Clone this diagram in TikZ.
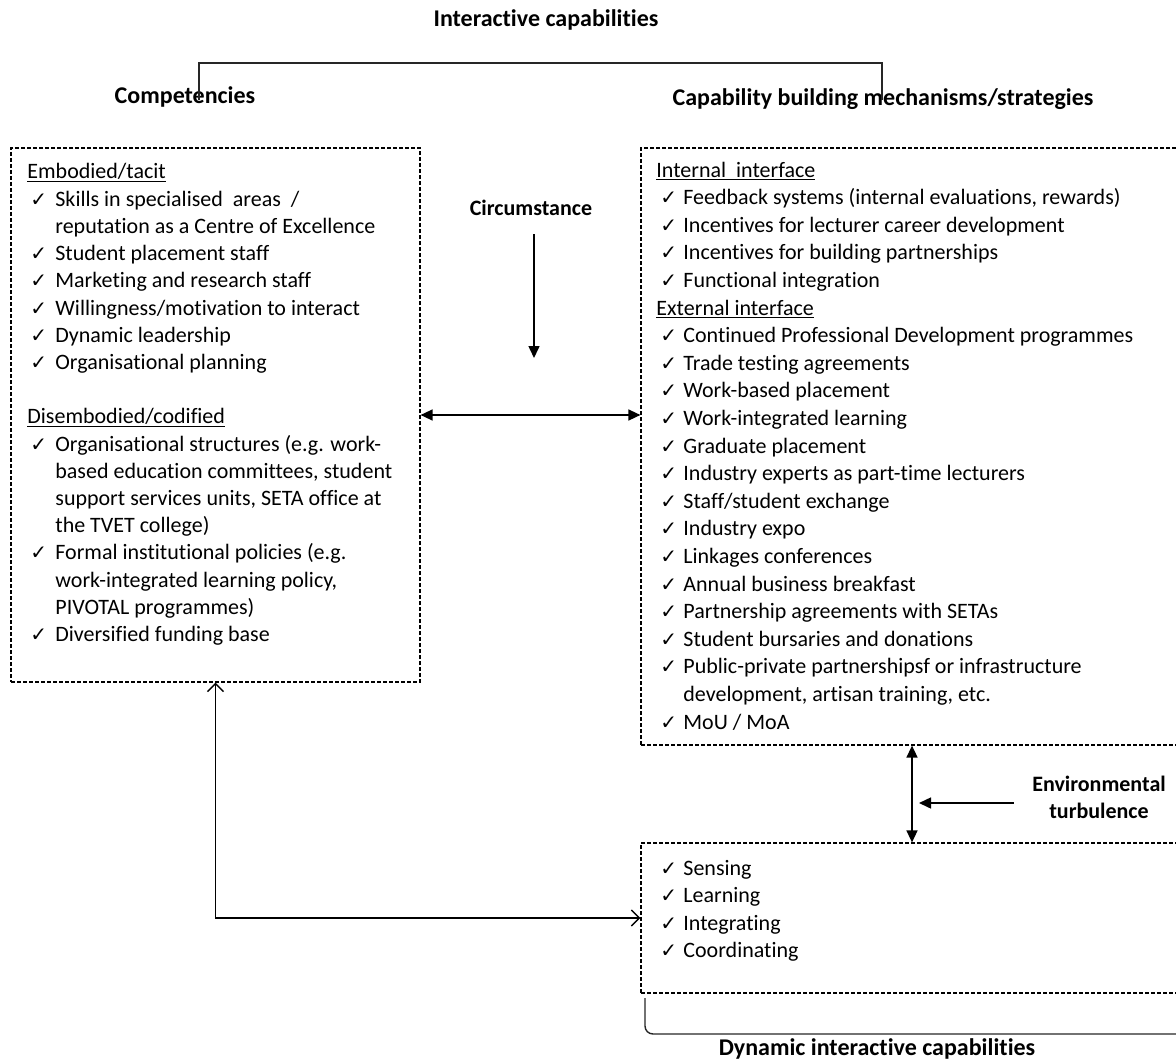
\documentclass[tikz,border=0pt]{standalone}
\usepackage{fontspec}
\setmainfont{Carlito}[Ligatures=CommonOff]
\newfontfamily\ckfont{DejaVu Sans}
\usetikzlibrary{arrows.meta, positioning}

% tick mark of a list row: left offset, column width
\newcommand{\chk}[2]{\makebox[#2][l]{\hspace{#1}{\ckfont\fontsize{10}{10}\selectfont ✓}}}
% underlined sub-heading
\newcommand{\uln}[1]{\setbox0\hbox{#1}\rlap{\rule[-1.6pt]{\wd0}{0.5pt}}\box0}

\begin{document}
\begin{tikzpicture}[
  x=0.5pt, y=-0.5pt,
  dbox/.style={rectangle, draw, line width=0.6pt, dash pattern=on 2pt off 1pt,
               inner sep=0pt},
  title/.style={font=\fontsize{12}{14}\selectfont\bfseries, inner sep=1pt},
  note/.style={font=\fontsize{11}{13.6}\selectfont\bfseries, inner sep=1pt},
  list/.style={font=\fontsize{11}{13.6}\selectfont, inner sep=0pt,
               anchor=base west},
  arr/.style={-{Triangle[length=6pt,width=5.5pt]}, line width=0.75pt},
  arrboth/.style={{Triangle[length=6pt,width=5.5pt]}-{Triangle[length=6pt,width=5.5pt]},
                  line width=0.75pt},
  barbboth/.style={{Straight Barb[length=4pt,width=8pt]}-{Straight Barb[length=4pt,width=8pt]},
                   line width=0.75pt},
  bracket/.style={line width=0.7pt, black!85},
]
  \useasboundingbox (0,0) rectangle (1176,1059);

  % headings
  \node[title] (inter) at (546,20)  {Interactive capabilities};
  \node[title] (comp)  at (185,97)  {Competencies};
  \node[title] (cbm)   at (883,99)  {Capability building mechanisms/strategies};
  \node[note]  (circ)  at (531,208) {Circumstance};
  \node[note, align=center] (env) at (1099,797) {Environmental\\turbulence};
  \node[title] (dic)   at (877,1049) {Dynamic interactive capabilities};

  % dashed boxes
  \node[dbox, minimum width=204.5pt, minimum height=267pt]  (comps) at (215.5,415) {};
  \node[dbox, minimum width=271pt,   minimum height=298.5pt] (cbms) at (912,446.5) {};
  \node[dbox, minimum width=271pt,   minimum height=75pt]    (dyn)  at (912,918) {};

  % box contents
  \node[list] (complist) at (27,179) {%
    \begin{tabular}[t]{@{}l@{}l@{}}
      \multicolumn{2}{@{}l@{}}{\uln{Embodied/tacit}}\\
      \chk{1.5pt}{14pt} & Skills in specialised\ \ areas\ \ /\\
                        & reputation as a Centre of Excellence\\
      \chk{1.5pt}{14pt} & Student placement staff\\
      \chk{1.5pt}{14pt} & Marketing and research staff\\
      \chk{1.5pt}{14pt} & Willingness/motivation to interact\\
      \chk{1.5pt}{14pt} & Dynamic leadership\\
      \chk{1.5pt}{14pt} & Organisational planning\\
                        & \\
      \multicolumn{2}{@{}l@{}}{\uln{Disembodied/codified}}\\
      \chk{1.5pt}{14pt} & Organisational structures (e.g. work-\\
                        & based education committees, student\\
                        & support services units, SETA office at\\
                        & the TVET college)\\
      \chk{1.5pt}{14pt} & Formal institutional policies (e.g.\\
                        & work-integrated learning policy,\\
                        & PIVOTAL programmes)\\
      \chk{1.5pt}{14pt} & Diversified funding base
    \end{tabular}};

  \node[list, font=\fontsize{11}{13.8}\selectfont] (cbmlist) at (656,177) {%
    \begin{tabular}[t]{@{}l@{}l@{}}
      \multicolumn{2}{@{}l@{}}{\uln{Internal\ \ interface}}\\
      \chk{2pt}{13.5pt} & Feedback systems (internal evaluations, rewards)\\
      \chk{2pt}{13.5pt} & Incentives for lecturer career development\\
      \chk{2pt}{13.5pt} & Incentives for building partnerships\\
      \chk{2pt}{13.5pt} & Functional integration\\
      \multicolumn{2}{@{}l@{}}{\uln{External interface}}\\
      \chk{2pt}{13.5pt} & Continued Professional Development programmes\\
      \chk{2pt}{13.5pt} & Trade testing agreements\\
      \chk{2pt}{13.5pt} & Work-based placement\\
      \chk{2pt}{13.5pt} & Work-integrated learning\\
      \chk{2pt}{13.5pt} & Graduate placement\\
      \chk{2pt}{13.5pt} & Industry experts as part-time lecturers\\
      \chk{2pt}{13.5pt} & Staff/student exchange\\
      \chk{2pt}{13.5pt} & Industry expo\\
      \chk{2pt}{13.5pt} & Linkages conferences\\
      \chk{2pt}{13.5pt} & Annual business breakfast\\
      \chk{2pt}{13.5pt} & Partnership agreements with SETAs\\
      \chk{2pt}{13.5pt} & Student bursaries and donations\\
      \chk{2pt}{13.5pt} & Public-private partnershipsf or infrastructure\\
                        & development, artisan training, etc.\\
      \chk{2pt}{13.5pt} & MoU / MoA
    \end{tabular}};

  \node[list, font=\fontsize{11}{13.8}\selectfont] (dynlist) at (656,875) {%
    \begin{tabular}[t]{@{}l@{}l@{}}
      \chk{2pt}{13.5pt} & Sensing\\
      \chk{2pt}{13.5pt} & Learning\\
      \chk{2pt}{13.5pt} & Integrating\\
      \chk{2pt}{13.5pt} & Coordinating
    \end{tabular}};

  % brackets
  \coordinate (brl) at (199,100);
  \coordinate (brr) at (882,100);
  \draw[bracket] (brl) -- ++(0,-37) -| (brr);
  \coordinate (bbl) at (645,998);
  \coordinate (bbr) at (1190,1034);
  \draw[bracket, rounded corners=4pt] (bbl) |- (bbr);

  % connectors
  \coordinate (circend) at (534,358);
  \draw[arr, shorten <=8pt] (circ.south -| circend) -- (circend);
  \draw[arrboth] (comps.east) -- (comps.east -| cbms.west);
  \draw[arrboth] (cbms.south) -- (dyn.north);
  \coordinate (envtip) at (919,803);
  \draw[arr, shorten <=8pt] (env.west |- envtip) -- (envtip);
  \draw[barbboth] (comps.south) |- (dyn.west);
\end{tikzpicture}
\end{document}
